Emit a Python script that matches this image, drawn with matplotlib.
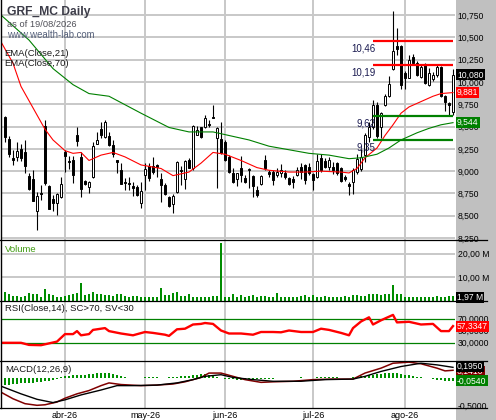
import numpy as np
import pandas as pd
import matplotlib
matplotlib.use("Agg")
import matplotlib.pyplot as plt
import matplotlib.transforms as mtransforms
from matplotlib.patches import Rectangle
from matplotlib.lines import Line2D

plt.rcParams["font.family"] = ["Liberation Sans", "DejaVu Sans"]

W, H = 496, 420

# trading calendar (Bolsa de Madrid)
first_day, last_day = "2026-03-11", "2026-08-19"
holidays = ["2026-04-03", "2026-04-06", "2026-05-01"]
month_abbr = ["ene", "feb", "mar", "abr", "may", "jun", "jul", "ago", "sep", "oct", "nov", "dic"]

opens = [
    9.61, 9.36, 9.15, 9.16, 9.25, 9.21, 8.95, 8.91, 8.55, 8.75,
    9.51, 8.83, 8.69, 8.64, 8.71, 9.22, 9.11, 9.12, 9.41, 9.16,
    8.89, 8.82, 8.93, 9.31, 9.47, 9.38, 9.39, 9.29, 9.12, 9.01,
    8.88, 8.87, 8.83, 8.82, 8.64, 8.96, 9.06, 9.06, 9.07, 8.91,
    8.85, 8.71, 8.63, 8.77, 9.01, 8.91, 9.12, 9.03, 9.41, 9.49,
    9.50, 9.53, 9.61, 9.37, 9.36, 9.33, 9.16, 8.98, 8.91, 9.03,
    8.92, 9.01, 8.95, 8.79, 8.86, 9.12, 8.99, 8.99, 8.96, 8.98,
    8.98, 8.92, 8.91, 8.96, 9.05, 9.07, 9.05, 8.97, 8.94, 9.15,
    9.11, 9.05, 9.05, 9.09, 9.03, 8.93, 8.86, 8.88, 8.99, 9.02,
    9.18, 9.38, 9.50, 9.74, 9.49, 9.74, 9.84, 10.15, 10.40, 10.40,
    10.10, 10.05, 10.28, 10.21, 10.06, 10.20, 9.97, 10.03, 10.08, 10.17,
    9.84, 9.76, 9.66]
highs = [
    9.62, 9.39, 9.24, 9.33, 9.31, 9.35, 8.98, 9.01, 8.77, 8.85,
    9.57, 8.84, 8.73, 8.75, 8.93, 9.24, 9.17, 9.17, 9.49, 9.22,
    8.90, 8.89, 9.33, 9.44, 9.55, 9.57, 9.44, 9.35, 9.12, 9.09,
    8.92, 8.93, 8.88, 8.84, 8.88, 9.09, 9.09, 9.16, 9.08, 8.98,
    8.87, 8.72, 8.74, 9.11, 9.06, 9.13, 9.15, 9.52, 9.51, 9.50,
    9.63, 9.57, 9.74, 9.50, 9.55, 9.35, 9.18, 9.03, 8.98, 9.17,
    8.96, 9.04, 8.96, 8.83, 8.96, 9.18, 9.01, 9.01, 9.04, 9.08,
    9.01, 8.94, 8.95, 9.05, 9.09, 9.08, 9.09, 8.98, 9.19, 9.19,
    9.15, 9.16, 9.10, 9.10, 9.05, 8.96, 8.88, 9.03, 9.19, 9.25,
    9.43, 9.55, 9.80, 9.77, 9.66, 9.86, 10.07, 10.80, 10.60, 10.42,
    10.12, 10.30, 10.31, 10.24, 10.20, 10.21, 10.16, 10.11, 10.19, 10.18,
    9.85, 9.78, 10.15]
lows = [
    9.33, 9.16, 9.07, 9.11, 9.11, 8.98, 8.79, 8.67, 8.34, 8.68,
    8.85, 8.58, 8.55, 8.51, 8.70, 8.99, 9.02, 8.87, 9.28, 8.71,
    8.85, 8.75, 8.92, 9.30, 9.37, 9.37, 9.28, 9.16, 8.98, 8.86,
    8.79, 8.79, 8.72, 8.72, 8.59, 8.79, 8.89, 8.97, 8.93, 8.65,
    8.73, 8.60, 8.53, 8.76, 8.85, 8.80, 9.03, 9.01, 9.40, 9.37,
    9.48, 9.49, 9.60, 8.81, 9.19, 9.11, 8.98, 8.87, 8.83, 8.88,
    8.87, 8.81, 8.71, 8.71, 8.85, 9.01, 8.93, 8.85, 8.93, 8.94,
    8.91, 8.85, 8.81, 8.95, 8.91, 8.86, 8.96, 8.79, 8.92, 8.99,
    9.03, 9.01, 8.97, 8.96, 8.88, 8.89, 8.73, 8.74, 8.97, 9.00,
    9.10, 9.33, 9.47, 9.37, 9.37, 9.73, 9.83, 10.13, 10.30, 9.92,
    9.92, 10.04, 10.20, 10.07, 10.05, 9.98, 9.96, 10.01, 10.06, 9.83,
    9.67, 9.63, 9.63]
closes = [
    9.38, 9.19, 9.12, 9.23, 9.15, 9.06, 8.80, 8.67, 8.72, 8.74,
    8.87, 8.58, 8.64, 8.74, 8.86, 9.17, 9.10, 8.96, 9.34, 8.80,
    8.86, 8.88, 9.28, 9.35, 9.40, 9.55, 9.29, 9.19, 9.10, 8.86,
    8.87, 8.86, 8.81, 8.73, 8.78, 9.02, 8.92, 8.99, 9.05, 8.85,
    8.74, 8.61, 8.72, 9.10, 9.00, 9.11, 9.04, 9.51, 9.46, 9.38,
    9.60, 9.52, 9.60, 9.48, 9.20, 9.12, 8.99, 8.88, 8.98, 8.96,
    8.88, 9.02, 8.83, 8.73, 8.95, 9.03, 8.97, 8.90, 8.99, 9.01,
    8.94, 8.86, 8.88, 9.01, 8.99, 8.90, 8.98, 8.90, 9.11, 9.01,
    9.05, 9.13, 9.01, 8.98, 8.89, 8.91, 8.83, 9.01, 9.14, 9.16,
    9.40, 9.50, 9.74, 9.39, 9.65, 9.84, 9.98, 10.35, 10.37, 9.97,
    10.04, 10.25, 10.21, 10.08, 10.17, 9.99, 10.10, 10.08, 10.17, 9.84,
    9.78, 9.74, 10.08]
volume_m = [
    3.5, 2.6, 2.0, 2.0, 1.5, 1.9, 3.0, 2.9, 2.6, 1.5,
    4.8, 2.6, 2.3, 1.7, 1.7, 2.0, 2.3, 2.6, 3.0, 7.4,
    2.3, 2.6, 3.8, 2.6, 2.6, 2.3, 2.3, 2.0, 2.6, 2.6,
    2.0, 1.7, 2.0, 2.0, 1.7, 1.7, 1.5, 1.7, 1.5, 5.2,
    2.3, 2.3, 3.2, 3.5, 2.0, 2.0, 2.6, 1.7, 1.7, 1.5,
    1.7, 1.7, 2.0, 2.0, 24.8, 1.7, 1.7, 2.6, 1.7, 2.3,
    1.7, 2.0, 2.3, 1.7, 2.0, 2.0, 1.5, 1.7, 3.0, 1.5,
    1.7, 1.7, 1.5, 1.7, 2.0, 2.3, 1.7, 2.3, 1.5, 1.5,
    2.0, 1.7, 1.7, 1.5, 1.7, 2.0, 1.7, 2.3, 2.3, 2.0,
    2.0, 2.6, 2.6, 2.6, 2.3, 2.6, 2.6, 6.5, 2.6, 2.6,
    1.7, 1.7, 1.7, 1.5, 1.5, 1.3, 1.5, 1.5, 2.0, 1.7,
    1.5, 2.0, 1.97]

# indicator readings (bar index, value)
ema21_bars = [-1, 2, 4, 7, 10, 12, 15, 17, 19, 21, 24, 27, 30, 34, 39, 42, 46, 49, 52, 55,
              59, 63, 66, 71, 75, 79, 84, 86, 88, 90, 93, 95, 97, 99, 101, 104, 107, 109, 112]
ema21_vals = [10.45, 10.21, 9.95, 9.71, 9.47, 9.35, 9.23, 9.20, 9.21, 9.12, 9.18, 9.21, 9.16, 9.07,
              9.03, 8.95, 8.99, 9.09, 9.21, 9.19, 9.12, 9.04, 9.01, 8.99, 8.99, 9.00, 8.99, 8.98,
              9.03, 9.15, 9.26, 9.40, 9.52, 9.65, 9.72, 9.78, 9.84, 9.87, 9.881]
ema70_bars = [-1, 6, 12, 17, 21, 26, 34, 41, 46, 52, 57, 61, 66, 71, 76, 81, 86, 89, 93, 96,
              99, 103, 106, 109, 112]
ema70_vals = [10.75, 10.47, 10.15, 9.97, 9.87, 9.84, 9.65, 9.49, 9.44, 9.44, 9.39, 9.35, 9.28,
              9.24, 9.20, 9.18, 9.14, 9.15, 9.19, 9.26, 9.35, 9.43, 9.48, 9.52, 9.544]
rsi_bars = [-1, 4, 6, 9, 11, 13, 15, 17, 18, 19, 21, 22, 25, 26, 29, 32, 35, 37, 40, 41, 43, 45,
            47, 49, 50, 52, 54, 56, 59, 62, 64, 67, 69, 71, 74, 77, 79, 81, 84, 86, 87, 89, 91,
            92, 94, 97, 98, 101, 104, 107, 109, 111, 112]
rsi_vals = [29.5, 29.5, 26, 25.5, 28.5, 31.5, 44, 44, 49, 42, 44, 51, 54, 49, 45, 42, 47.5, 46,
            43, 41, 52, 53, 60, 61, 62.5, 61, 50, 45, 45, 43, 47.5, 47.5, 47, 50, 47.5, 47.5, 53,
            51, 46, 42, 54, 65, 72, 60, 67, 76, 63.5, 64.5, 60, 61, 49, 49, 57.3347]
macd_bars = [-1, 2, 5, 8, 10, 13, 15, 18, 21, 24, 26, 29, 34, 38, 42, 45, 49, 51, 54, 57, 60, 64,
             67, 72, 77, 82, 87, 90, 94, 97, 101, 104, 108, 110, 112]
macd_vals = [-0.26, -0.38, -0.47, -0.50, -0.49, -0.44, -0.37, -0.29, -0.23, -0.14, -0.09, -0.12,
             -0.14, -0.13, -0.11, -0.07, 0.01, 0.09, 0.09, 0.03, -0.03, -0.08, -0.07, -0.06,
             -0.03, -0.02, -0.02, 0.09, 0.18, 0.27, 0.29, 0.26, 0.18, 0.13, 0.141]
signal_bars = [-1, 4, 8, 12, 15, 19, 24, 28, 32, 38, 43, 47, 50, 54, 57, 62, 67, 74, 80, 87, 90,
               94, 99, 104, 108, 112]
signal_vals = [-0.15, -0.29, -0.39, -0.45, -0.40, -0.31, -0.22, -0.14, -0.14, -0.13, -0.09, -0.03,
               0.03, 0.06, 0.01, -0.03, -0.06, -0.06, -0.03, -0.02, 0.03, 0.12, 0.21, 0.27, 0.24,
               0.195]
hist_vals = [
    -0.12, -0.12, -0.11, -0.11, -0.10, -0.10, -0.09, -0.09, -0.08, -0.07, -0.06, -0.05, -0.03, -0.02,
    0.01, 0.03, 0.04, 0.05, 0.06, 0.06, 0.06, 0.07, 0.08, 0.09, 0.10, 0.10, 0.09, 0.07, 0.05, 0.03, 0.01,
    0.005, 0.0, 0.0, 0.0,
    0.01, 0.01, 0.01, 0.01, 0.005, 0.0,
    0.02, 0.02, 0.02, 0.03, 0.03, 0.04,
    0.05, 0.06, 0.07, 0.07, 0.06, 0.04,
    0.02, 0.0, -0.01,
    -0.02, -0.02, -0.03, -0.03, -0.03, -0.02, -0.02,
    -0.02, -0.02, -0.02, -0.01, -0.01,
    0.0, 0.0, 0.0, 0.0, 0.0, 0.0, 0.01, 0.0, 0.0, 0.0,
    0.01, 0.01, 0.01, 0.01, 0.01, 0.01,
    0.0, 0.0, 0.0, 0.01,
    0.02, 0.03, 0.04, 0.05, 0.06, 0.07, 0.08, 0.09, 0.10, 0.10, 0.09, 0.08,
    0.06, 0.05, 0.03, 0.02, 0.01,
    0.0, 0.0,
    -0.02, -0.03, -0.04, -0.05, -0.05, -0.054]

# support / resistance levels drawn from bar 92 to the last bar
level_vals = [10.46, 10.19, 9.62, 9.35]
level_names = ["10,46", "10,19", "9,62", "9,35"]
level_colors = ["#ff0000", "#ff0000", "#008000", "#008000"]
level_start = 92

price_ticks = [8.25, 8.5, 8.75, 9.0, 9.25, 9.5, 9.75, 10.0, 10.25, 10.5, 10.75]
volume_ticks = [10, 20]
rsi_ticks = [30, 50, 70]
macd_ticks = [-0.5]

GRID = "#c8c8c8"
PANEL = "#c0c0c0"
TICK_FS = 6.2


def px_axes(fig, x0, y0, x1, y1):
    return fig.add_axes([x0 / W, 1 - y1 / H, (x1 - x0) / W, (y1 - y0) / H])


def ftext(fig, x, y, s, **kw):
    fig.text(x / W, 1 - y / H, s, **kw)


def badge(ax, y, s, fc):
    tr = mtransforms.blended_transform_factory(ax.transAxes, ax.transData)
    ax.text(1.0045, y, s, transform=tr, ha="left", va="center", color="white", fontsize=TICK_FS,
            bbox=dict(boxstyle="square,pad=0.12", fc=fc, ec="none"), zorder=10, clip_on=False)


def style_axes(ax, n, month_idx):
    ax.set_xlim(-0.75, n - 0.5)
    for s in ax.spines.values():
        s.set_visible(False)
    ax.yaxis.tick_right()
    ax.tick_params(axis="y", length=0, pad=2.0, labelsize=TICK_FS)
    ax.tick_params(axis="x", length=0)
    ax.set_xticks([])
    for m in month_idx:
        ax.axvline(m, color=GRID, lw=1.4, zorder=0)


def main():
    dates = pd.bdate_range(first_day, last_day)
    dates = dates[~dates.isin(pd.to_datetime(holidays))]
    n = len(dates)
    assert n == len(closes) == len(opens) == len(highs) == len(lows) == len(volume_m) == len(hist_vals)
    idx = np.arange(n)
    month_idx = [i for i in range(1, n) if dates[i].month != dates[i - 1].month]
    month_lbl = [f"{month_abbr[dates[i].month - 1]}-{dates[i].strftime('%y')}" for i in month_idx]

    fig = plt.figure(figsize=(W / 100, H / 100), dpi=100)
    fig.add_artist(Rectangle((456 / W, 0), 40 / W, 1, transform=fig.transFigure,
                             fc=PANEL, ec="none", zorder=-1))

    ax_p = px_axes(fig, 2, 0, 455, 239.5)
    ax_v = px_axes(fig, 2, 239.5, 455, 300.5)
    ax_r = px_axes(fig, 2, 300.5, 455, 360.5)
    ax_m = px_axes(fig, 2, 360.5, 455, 407.5)
    for ax in (ax_p, ax_v, ax_r, ax_m):
        style_axes(ax, n, month_idx)

    # price panel
    o, h, l, c = map(np.asarray, (opens, highs, lows, closes))
    ax_p.set_ylim(8.234, 10.919)
    ax_p.set_yticks(price_ticks)
    ax_p.set_yticklabels([f"{v:.3f}".replace(".", ",") for v in price_ticks])
    for v in price_ticks:
        ax_p.axhline(v, color=GRID, lw=1.4, zorder=0)
    ax_p.vlines(idx, l, h, color="black", lw=0.8, zorder=2)
    up = c >= o
    body_lo = np.minimum(o, c)
    body_h = np.maximum(np.abs(c - o), 0.01)
    ax_p.bar(idx, body_h, bottom=body_lo, width=0.7, color=np.where(up, "white", "black"),
             edgecolor="black", linewidth=0.7, zorder=3)
    ax_p.plot(ema21_bars, ema21_vals, color="#ff0000", lw=0.8, zorder=4)
    ax_p.plot(ema70_bars, ema70_vals, color="#008000", lw=0.8, zorder=4)
    for v, name, col in zip(level_vals, level_names, level_colors):
        ax_p.plot([level_start, n - 1], [v, v], color=col, lw=1.6, zorder=5, solid_capstyle="butt")
        ax_p.annotate(name, xy=(level_start + 0.6, v), xytext=(0, -1.6), textcoords="offset points",
                      ha="right", va="top", fontsize=7.0, color="#1a1a50", zorder=6)
    badge(ax_p, closes[-1], f"{closes[-1]:.3f}".replace(".", ","), "black")
    badge(ax_p, ema21_vals[-1], f"{ema21_vals[-1]:.3f}".replace(".", ","), "#ff0000")
    badge(ax_p, ema70_vals[-1], f"{ema70_vals[-1]:.3f}".replace(".", ","), "#008000")

    # volume panel
    ax_v.set_ylim(0, 26.1)
    ax_v.set_yticks(volume_ticks)
    ax_v.set_yticklabels([f"{v:.2f} M".replace(".", ",") for v in volume_ticks])
    for v in volume_ticks:
        ax_v.axhline(v, color=GRID, lw=1.4, zorder=0)
    ax_v.bar(idx, volume_m, width=0.5, color="#008c00", zorder=3)
    badge(ax_v, 1.3, f"{volume_m[-1]:.2f} M".replace(".", ","), "black")

    # RSI panel
    ax_r.set_ylim(0, 100)
    ax_r.set_yticks(rsi_ticks)
    ax_r.set_yticklabels([f"{v:.4f}".replace(".", ",") for v in rsi_ticks])
    ax_r.axhline(70, color="#008000", lw=0.9, zorder=1)
    ax_r.axhline(30, color="#008000", lw=0.9, zorder=1)
    ax_r.plot(rsi_bars, rsi_vals, color="#ff0000", lw=1.7, zorder=4)
    badge(ax_r, rsi_vals[-1], f"{rsi_vals[-1]:.4f}".replace(".", ","), "#ff0000")

    # MACD panel
    ax_m.set_ylim(-0.54, 0.32)
    ax_m.set_yticks(macd_ticks)
    ax_m.set_yticklabels([f"{v:.4f}".replace(".", ",") for v in macd_ticks])
    ax_m.bar(idx, hist_vals, width=0.3, color="#009000", zorder=2)
    ax_m.plot(macd_bars, macd_vals, color="#800000", lw=1.1, zorder=4)
    ax_m.plot(signal_bars, signal_vals, color="black", lw=1.0, zorder=4)
    badge(ax_m, macd_vals[-1] - 0.02, f"{macd_vals[-1]:.4f}".replace(".", ","), "#800000")
    badge(ax_m, signal_vals[-1] + 0.012, f"{signal_vals[-1]:.4f}".replace(".", ","), "black")
    badge(ax_m, hist_vals[-1], f"{hist_vals[-1]:.4f}".replace(".", ","), "#008000")
    ax_m.set_xticks(month_idx)
    ax_m.set_xticklabels(month_lbl, fontsize=6.5)
    ax_m.tick_params(axis="x", length=0, pad=2.2)

    # panel separators and left border
    for y in (239.5, 300.5, 360.5, 407.5):
        fig.add_artist(Line2D([0, 487 / W], [1 - y / H, 1 - y / H], transform=fig.transFigure,
                              color="black", lw=0.9, zorder=8))
    fig.add_artist(Line2D([0.6 / W, 0.6 / W], [1 - 407.5 / H, 1], transform=fig.transFigure,
                          color="black", lw=1.0, zorder=8))

    # titles and pane labels
    ftext(fig, 7, 15.5, "GRF_MC Daily", fontsize=8.7, fontweight="bold", color="#3c3c48", va="baseline")
    ftext(fig, 7, 27, "as of 19/08/2026", fontsize=6.7, color="#505058", va="baseline")
    ftext(fig, 7, 37.5, "www.wealth-lab.com", fontsize=6.9, color="#55607a", va="baseline")
    ftext(fig, 4, 56, "EMA(Close,21)", fontsize=6.8, color="#1a1a1a", va="baseline")
    ftext(fig, 4, 66, "EMA(Close,70)", fontsize=6.8, color="#1a1a1a", va="baseline")
    ftext(fig, 5, 252, "Volume", fontsize=6.8, color="#3f9a10", va="baseline")
    ftext(fig, 5, 311, "RSI(Close,14), SC>70, SV<30", fontsize=6.8, color="#1a1a1a", va="baseline")
    ftext(fig, 5, 371.5, "MACD(12,26,9)", fontsize=6.8, color="#1a1a1a", va="baseline")

    fig.savefig("out.png", dpi=100)


if __name__ == "__main__":
    main()
